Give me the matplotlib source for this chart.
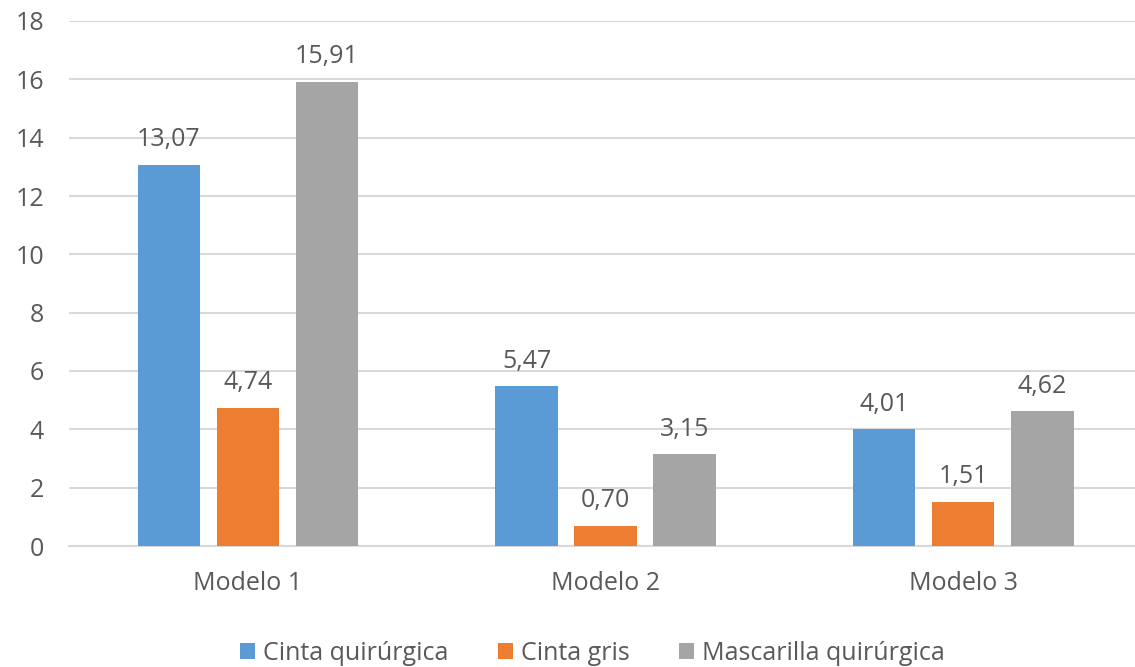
import matplotlib.pyplot as plt
import numpy as np

modelos = ['Modelo 1', 'Modelo 2', 'Modelo 3']
cinta_quirurgica = [13.07, 5.47, 4.01]
cinta_gris = [4.74, 0.70, 1.51]
mascarilla_quirurgica = [15.91, 3.15, 4.62]
nombres_series = ['Cinta quirúrgica', 'Cinta gris', 'Mascarilla quirúrgica']
colores = ['#5B9BD5', '#ED7D31', '#A5A5A5']
y_ticks = [0, 2, 4, 6, 8, 10, 12, 14, 16, 18]

plt.rcParams['font.family'] = ['Open Sans', 'DejaVu Sans']
texto = '#595959'

fig = plt.figure(figsize=(11.35, 6.67), dpi=100)
ax = fig.add_axes([69 / 1135, 1 - 546 / 667, 1 - 69 / 1135, (546 - 21) / 667])

x = np.arange(len(modelos))
ancho = 0.176
paso = 0.221

series = [cinta_quirurgica, cinta_gris, mascarilla_quirurgica]
for i, (valores, nombre, color) in enumerate(zip(series, nombres_series, colores)):
    barras = ax.bar(x + (i - 1) * paso, valores, ancho, color=color, label=nombre, zorder=3)
    # etiquetas con coma decimal
    for b, v in zip(barras, valores):
        ax.annotate(f'{v:.2f}'.replace('.', ','), (b.get_x() + b.get_width() / 2, v),
                    xytext=(0, 9), textcoords='offset points',
                    ha='center', va='bottom', fontsize=18, color=texto)

ax.set_xlim(-0.5007, 2.481)
ax.set_ylim(0, 18)
ax.set_yticks(y_ticks)
ax.set_xticks(x)
ax.set_xticklabels(modelos)
ax.tick_params(axis='both', length=0, labelsize=18, colors=texto)
ax.tick_params(axis='x', pad=18)
ax.tick_params(axis='y', pad=18)
ax.grid(axis='y', color='#D9D9D9', linewidth=1.5, zorder=0)
for s in ['top', 'right', 'left']:
    ax.spines[s].set_visible(False)
ax.spines['bottom'].set_color('#D9D9D9')
ax.spines['bottom'].set_linewidth(1.5)

fig.legend(loc='lower center', bbox_to_anchor=(0.522, -0.032), ncol=3, frameon=False,
           fontsize=18, labelcolor=texto, handlelength=0.6, handleheight=0.6,
           handletextpad=0.3, columnspacing=2.0)

fig.savefig('out.png', dpi=100)
